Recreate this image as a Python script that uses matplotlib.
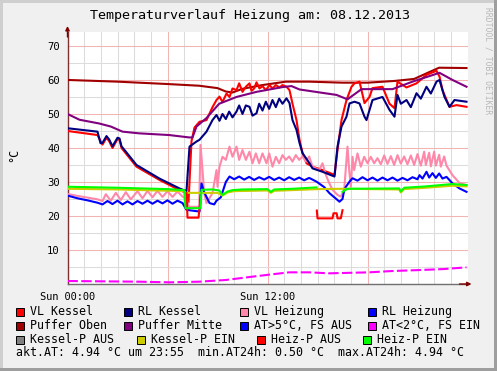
import numpy as np
import matplotlib
matplotlib.use("Agg")
import matplotlib.pyplot as plt
from matplotlib.patches import Rectangle

nan = np.nan

# hours of the day / temperatures (deg C)
vl_kessel_h = [0, 1.8, 2.04, 2.10, 2.34, 2.5, 2.70, 3.0, 3.12, 3.24, 4.14, 5.52, 6.72, 7.14, 7.26,
               7.44, 7.62, 7.92, 8.34, 8.70, 8.94, 9.12, 9.3, 9.54, 9.72, 9.9, 10.14, 10.3, 10.5,
               10.7, 10.92, 11.04, 11.2, 11.34, 11.52, 11.7, 11.9, 12.12, 12.3, 12.5, 12.72, 12.9,
               13.14, 13.32, 13.5, 13.74, 13.92, 14.10, 14.34, 14.70, 15.30, 16.02, 16.20, 16.44,
               16.74, 17.04, 17.22, 17.52, 17.82, 18.12, 18.30, 18.9, 19.32, 19.62, 19.80, 20.34,
               20.94, 21.54, 22.14, 22.32, 22.50, 22.92, 23.34, 23.94]
vl_kessel = [45.0, 43.8, 41.5, 41.0, 43.0, 42.0, 40.0, 42.6, 42.4, 40.0, 34.5, 30.6, 27.6, 26.8, 24.0,
             42.0, 46.0, 47.7, 48.2, 52.0, 54.1, 55.1, 53.5, 56.0, 55.0, 57.5, 57.0, 59.0, 56.5,
             58.0, 59.0, 56.8, 57.5, 59.3, 57.5, 58.2, 57.0, 58.5, 57.5, 58.5, 57.8, 58.5,
             58.0, 57.0, 53.0, 48.2, 42.4, 38.5, 35.5, 34.5, 33.5, 32.1, 39.4, 48.2,
             54.1, 58.0, 59.0, 59.5, 53.2, 55.0, 57.6, 58.0, 53.0, 51.7, 59.5, 57.8,
             59.0, 61.5, 62.7, 61.0, 57.0, 52.1, 52.6, 52.1]

rl_kessel_h = [0, 1.8, 1.98, 2.10, 2.34, 2.5, 2.70, 3.0, 3.12, 3.24, 4.14, 5.52, 6.72, 7.14, 7.32,
               7.74, 7.92, 8.34, 8.7, 8.94, 9.12, 9.3, 9.5, 9.7, 9.9, 10.14, 10.3, 10.5, 10.7,
               10.92, 11.1, 11.34, 11.5, 11.7, 11.9, 12.1, 12.3, 12.5, 12.7, 12.9, 13.14, 13.32,
               13.5, 13.74, 13.92, 14.10, 14.52, 14.70, 15.30, 16.02, 16.20, 16.44, 16.74, 16.92,
               17.22, 17.52, 17.82, 17.94, 18.30, 18.9, 19.32, 19.62, 19.80, 20.0, 20.34, 20.6,
               20.94, 21.2, 21.54, 21.8, 22.14, 22.32, 22.62, 22.92, 23.22, 23.94]
rl_kessel = [45.8, 44.8, 41.4, 41.5, 43.5, 42.5, 40.5, 43.0, 42.8, 40.5, 35.0, 31.0, 28.1, 27.3, 40.4,
             41.9, 42.4, 44.8, 48.2, 49.7, 48.0, 50.0, 48.5, 50.7, 49.0, 50.7, 52.5, 50.0, 52.5,
             52.1, 49.5, 50.2, 53.0, 51.0, 53.6, 51.5, 54.1, 52.0, 54.5, 53.0, 54.6, 53.2,
             48.2, 45.3, 41.5, 38.5, 35.5, 34.0, 33.0, 31.6, 40.4, 46.3, 49.2, 53.1,
             53.6, 53.1, 49.2, 48.2, 54.1, 55.0, 51.2, 49.2, 55.6, 53.0, 54.1, 52.0,
             56.1, 54.5, 58.0, 56.0, 59.5, 60.0, 55.0, 52.1, 54.1, 53.6]

vl_heizung_h = [0.0, 0.6, 1.2, 1.8, 2.1, 2.3, 2.6, 2.9, 3.2, 3.5, 3.8, 4.2, 4.5, 4.8, 5.1, 5.4, 5.7,
                6.0, 6.3, 6.6, 6.9, 7.1, 7.3, 7.9, 7.98, 8.1, 8.2, 8.34, 8.7, 8.94, 9.0, 9.12, 9.3,
                9.5, 9.72, 9.9, 10.14, 10.3, 10.5, 10.7, 10.92, 11.1, 11.3, 11.5, 11.7, 11.94, 12.1,
                12.3, 12.5, 12.7, 12.9, 13.1, 13.3, 13.5, 13.7, 13.9, 14.1, 14.3, 14.5, 14.7, 15.1,
                15.3, 15.5, 15.7, 15.9, 16.2, 16.4, 16.6, 16.8, 16.9, 17.0, 17.1, 17.2, 17.4, 17.6,
                17.8, 18.0, 18.2, 18.4, 18.6, 18.8, 19.0, 19.2, 19.4, 19.6, 19.8, 20.0, 20.2, 20.4,
                20.6, 20.8, 21.0, 21.2, 21.4, 21.5, 21.7, 21.8, 22.0, 22.1, 22.3, 22.4, 22.6, 22.74,
                23.1, 23.52, 23.94]
vl_heizung = [26.5, 25.9, 25.4, 24.9, 24.4, 26.4, 24.5, 26.8, 24.7, 27.0, 24.9, 27.3, 25.2, 27.4, 25.5,
              27.4, 25.6, 27.3, 25.6, 27.2, 25.7, 25.2, 22.7, 22.7, 40.9, 33.5, 26.7, 23.8, 26.7, 33.5,
              28.6, 34.5, 37.4, 36.5, 40.4, 37.4, 40.4, 36.5, 39.4, 36.5, 38.9, 35.5, 38.4, 35.5, 38.4,
              35.5, 38.4, 34.5, 37.4, 35.5, 37.9, 36.5, 37.5, 36.0, 37.9, 36.5, 37.5, 36.0, 37.5, 34.5,
              33.5, 35.5, 32.1, 29.7, 27.7, 26.2, 25.7, 27.7, 40.4, 33.5, 28.6, 37.4, 33.5, 38.4, 34.5,
              37.4, 35.5, 37.4, 35.5, 37.0, 35.2, 37.8, 35.3, 37.6, 35.0, 37.9, 35.4, 37.5, 35.2, 37.8,
              35.0, 38.2, 34.8, 38.9, 35.0, 38.6, 34.6, 38.9, 34.8, 38.0, 34.5, 37.5, 34.8, 32.0, 29.7,
              29.1]

rl_heizung_h = [0.0, 0.6, 1.2, 1.8, 2.1, 2.4, 2.7, 3.0, 3.3, 3.6, 3.9, 4.2, 4.5, 4.8, 5.1, 5.4, 5.7,
                6.0, 6.3, 6.6, 6.9, 7.14, 7.92, 8.04, 8.2, 8.52, 8.8, 8.94, 9.2, 9.5, 9.72, 10.0, 10.3,
                10.6, 10.9, 11.2, 11.5, 11.8, 12.1, 12.4, 12.7, 13.0, 13.3, 13.6, 13.9, 14.2, 14.5,
                14.94, 15.4, 15.72, 16.32, 16.5, 16.62, 16.92, 17.1, 17.4, 17.7, 18.0, 18.3, 18.6,
                18.9, 19.2, 19.5, 19.8, 20.1, 20.4, 20.7, 21.0, 21.12, 21.3, 21.54, 21.7, 21.9, 22.1,
                22.3, 22.5, 22.74, 23.1, 23.52, 23.94]
rl_heizung = [26.0, 25.2, 24.6, 23.9, 23.4, 24.4, 23.5, 24.5, 23.4, 24.3, 23.4, 24.4, 23.6, 24.5, 23.6,
              24.5, 23.7, 24.6, 23.6, 24.5, 23.8, 21.8, 21.3, 29.6, 27.0, 23.8, 23.4, 24.5, 25.5, 30.0,
              31.6, 30.8, 31.6, 30.7, 31.5, 30.6, 31.4, 30.7, 31.5, 30.6, 31.3, 30.5, 31.4, 30.6, 31.3,
              30.5, 31.2, 30.1, 28.5, 26.7, 24.2, 25.0, 28.0, 30.1, 31.1, 30.4, 31.4, 30.5, 31.3, 30.4,
              31.3, 30.5, 31.3, 30.4, 31.2, 30.5, 31.4, 30.8, 32.0, 31.0, 33.0, 31.3, 32.6, 31.2,
              32.5, 31.0, 31.5, 29.6, 28.1, 27.1]

puffer_oben_h = [0, 3.0, 6.0, 7.9, 9.0, 9.5, 9.9, 10.5, 11.7, 13.1, 14.5, 16.5, 18.0, 19.6, 20.8,
                 21.7, 22.3, 23.94]
puffer_oben = [60.0, 59.5, 58.8, 58.3, 57.6, 56.6, 56.3, 57.4, 58.5, 59.5, 59.5, 59.2, 59.2, 59.7,
               60.3, 62.3, 63.6, 63.5]

puffer_mitte_h = [0, 0.72, 1.9, 2.6, 3.3, 4.3, 6.1, 7.3, 7.5, 7.74, 8.34, 9.1, 10.14, 11.34, 12.9,
                  13.44, 13.92, 16.14, 16.8, 17.64, 19.5, 20.7, 22.32, 23.1, 23.94]
puffer_mitte = [50.0, 48.3, 47.2, 46.3, 44.8, 44.3, 43.8, 43.1, 43.1, 46.3, 48.8, 53.0, 55.0, 56.5,
                57.9, 58.2, 57.2, 55.6, 54.3, 57.3, 57.3, 59.5, 62.1, 60.0, 58.0]

aussen_h = [0, 4.3, 6.1, 7.9, 9.5, 11.1, 12.1, 13.3, 14.5, 15.7, 18.1, 19.5, 21.1, 22.6, 23.94]
aussen = [0.88, 0.68, 0.49, 0.68, 1.18, 2.16, 2.75, 3.43, 3.43, 3.14, 3.43, 3.82, 4.1, 4.4, 4.9]

kessel_p_ein_h = [0, 3.0, 7.0, 7.1, 9.0, 9.3, 9.6, 10.0, 12.0, 12.2, 12.4, 15.0, 16.5, 19.9, 20.0,
                  20.2, 21.5, 23.1, 23.94]
kessel_p_ein = [28.0, 27.8, 27.3, 26.8, 26.8, 26.0, 26.9, 27.3, 27.5, 26.8, 27.4, 27.9, 28.0, 27.8,
                26.9, 27.9, 28.3, 28.9, 28.7]

heiz_p_ein_h = [0, 3.0, 6.0, 7.0, 7.08, 7.98, 8.04, 8.7, 9.1, 9.3, 9.6, 9.9, 10.5, 12.0, 12.2, 12.4,
                13.5, 14.94, 14.97, 16.49, 16.5, 16.8, 19.9, 20.0, 20.2, 21.5, 23.1, 23.94]
heiz_p_ein = [28.6, 28.3, 27.9, 27.6, 22.3, 22.3, 27.7, 27.8, 27.5, 26.2, 27.2, 27.6, 27.8, 27.9,
              27.1, 27.8, 28.0, 28.4, nan, nan, 27.1, 28.0, 28.1, 27.2, 28.3, 28.7, 29.4, 29.1]

heiz_p_aus_h = [7.14, 7.2, 7.86, 7.98, 8.0, 14.96, 15.0, 15.9, 15.96, 16.15, 16.2, 16.4, 16.5]
heiz_p_aus = [26.7, 19.5, 19.5, 24.7, nan, 21.6, 19.3, 19.3, 20.8, 20.8, 19.3, 19.3, 21.7]

legend_labels = ['VL Kessel', 'RL Kessel', 'VL Heizung', 'RL Heizung',
                 'Puffer Oben', 'Puffer Mitte', 'AT>5°C, FS AUS', 'AT<2°C, FS EIN',
                 'Kessel-P AUS', 'Kessel-P EIN', 'Heiz-P AUS', 'Heiz-P EIN']
legend_colors = ['#FF0000', '#000080', '#FF88AA', '#0000FF',
                 '#A00000', '#800080', '#0000FF', '#FF00FF',
                 '#808080', '#CCCC00', '#FF0000', '#00FF00']
stats_line = 'akt.AT: 4.94 °C um 23:55  min.AT24h: 0.50 °C  max.AT24h: 4.94 °C'
title = 'Temperaturverlauf Heizung am: 08.12.2013'

W, H = 497, 371
mono = 'DejaVu Sans Mono'

fig = plt.figure(figsize=(W / 100, H / 100), dpi=100)
fig.patch.set_facecolor('#F0F0F0')

# 3d-ish frame of the image
fig.add_artist(Rectangle((0, 0), 3 / W, 1, transform=fig.transFigure, color='#CFCFCF', lw=0))
fig.add_artist(Rectangle((0, 1 - 3 / H), 1, 3 / H, transform=fig.transFigure, color='#CFCFCF', lw=0))
fig.add_artist(Rectangle((1 - 3 / W, 0), 3 / W, 1, transform=fig.transFigure, color='#9E9E9E', lw=0))
fig.add_artist(Rectangle((0, 0), 1, 3 / H, transform=fig.transFigure, color='#9E9E9E', lw=0))

ax = fig.add_axes([67.5 / W, 87 / H, 400 / W, 252 / H])
ax.set_facecolor('white')

lw = 1.5
ax.plot(vl_kessel_h, vl_kessel, color=legend_colors[0], lw=lw, zorder=3)
ax.plot(rl_kessel_h, rl_kessel, color=legend_colors[1], lw=lw, zorder=4)
ax.plot(vl_heizung_h, vl_heizung, color=legend_colors[2], lw=lw, zorder=3.5)
ax.plot(rl_heizung_h, rl_heizung, color=legend_colors[3], lw=lw, zorder=3.6)
ax.plot(puffer_oben_h, puffer_oben, color=legend_colors[4], lw=lw, zorder=2.9)
ax.plot(puffer_mitte_h, puffer_mitte, color=legend_colors[5], lw=lw, zorder=5)
ax.plot(aussen_h, aussen, color=legend_colors[7], lw=lw, ls=(0, (5, 1.6)), zorder=5)
ax.plot(kessel_p_ein_h, kessel_p_ein, color=legend_colors[9], lw=lw, zorder=5.5)
ax.plot(heiz_p_aus_h, heiz_p_aus, color=legend_colors[10], lw=lw, zorder=6)
ax.plot(heiz_p_ein_h, heiz_p_ein, color=legend_colors[11], lw=lw, zorder=6)

ax.set_xlim(0, 24)
ax.set_ylim(0, 74.1)

ax.set_xticks([0, 6, 12, 18])
ax.set_xticklabels(['Sun 00:00', '', 'Sun 12:00', ''])
ax.set_xticks(np.arange(0, 25, 1), minor=True)
ax.set_yticks(np.arange(0, 71, 10))
ax.set_yticklabels([''] + [str(v) for v in range(10, 71, 10)])
ax.set_yticks(np.arange(0, 74, 5), minor=True)

ax.grid(which='major', color='#F4B4B4', lw=0.75, zorder=1)
ax.grid(which='minor', color='#DCDCDC', lw=0.75, zorder=0.9)
ax.set_axisbelow(True)

ax.tick_params(which='both', length=0)
ax.tick_params(axis='y', pad=5.5, labelsize=7.6)
ax.tick_params(axis='x', pad=6, labelsize=7.4)
for lab in ax.get_xticklabels() + ax.get_yticklabels():
    lab.set_family(mono)

for s in ['top', 'right']:
    ax.spines[s].set_visible(False)
ax.spines['left'].set_color('#803030')
ax.spines['bottom'].set_color('#707070')
ax.spines['left'].set_linewidth(1)
ax.spines['bottom'].set_linewidth(1)

arrow = dict(arrowstyle='-|>', color='#7F0000', lw=1, mutation_scale=6, shrinkA=0, shrinkB=0)
ax.annotate('', xy=(0, 1 + 6 / 252), xytext=(0, 0.98), xycoords='axes fraction',
            arrowprops=arrow, annotation_clip=False)
ax.annotate('', xy=(1 + 4 / 400, 0), xytext=(0.98, 0), xycoords='axes fraction',
            arrowprops=arrow, annotation_clip=False)

fig.text(249.5 / W, 1 - 16 / H, title, ha='center', va='center', family=mono, fontsize=9.6)
fig.text(14 / W, 1 - 155 / H, '°C', ha='center', va='center', rotation=90, family=mono, fontsize=8.5)
fig.text(488 / W, 1 - 61 / H, 'RRDTOOL / TOBI OETIKER', ha='center', va='center', rotation=270,
         family=mono, fontsize=5.8, color='#B8B8B8')

# legend layout (pixel positions of the colour boxes)
box_x = [16, 124, 240, 368,
         16, 124, 240, 368,
         16, 137, 257, 363]
row_y = [311.5, 325.5, 339.5]
for i, (lab, col) in enumerate(zip(legend_labels, legend_colors)):
    x = box_x[i]
    y = row_y[i // 4]
    fig.add_artist(Rectangle((x / W, 1 - (y + 4) / H), 8 / W, 8 / H, transform=fig.transFigure,
                             facecolor=col, edgecolor='black', lw=0.7))
    fig.text((x + 14) / W, 1 - y / H, lab, ha='left', va='center', family=mono, fontsize=8.4)

fig.text(16 / W, 1 - 353 / H, stats_line, ha='left', va='center', family=mono, fontsize=8.4)

fig.savefig('out.png', dpi=100, facecolor=fig.get_facecolor())
